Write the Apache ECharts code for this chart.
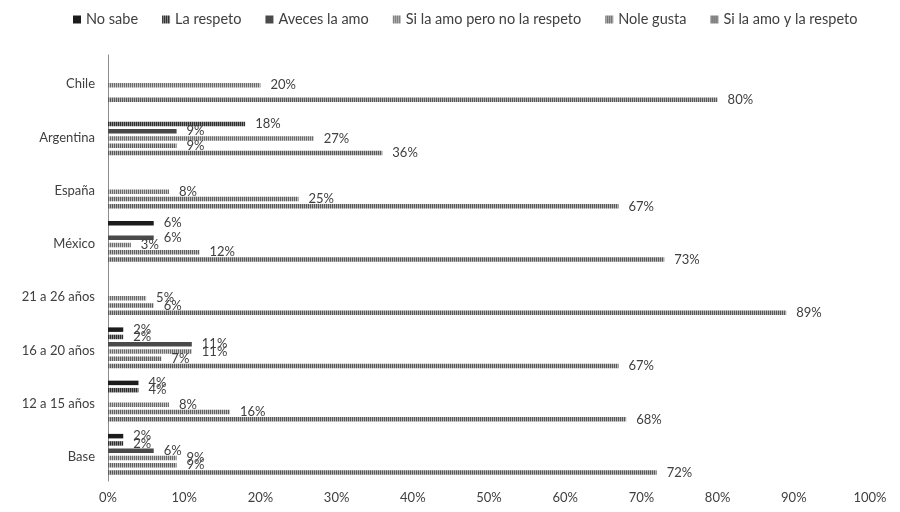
<!DOCTYPE html>
<html>
<head>
<meta charset="utf-8">
<script src="https://cdn.jsdelivr.net/npm/echarts@6/dist/echarts.min.js"></script>
<style>
  html, body { margin: 0; padding: 0; background: #fff; }
  #chart { width: 900px; height: 512px; }
</style>
</head>
<body>
<div id="chart"></div>
<script>
// Categories, bottom to top
const categories = ['Base', '12 a 15 años', '16 a 20 años', '21 a 26 años', 'México', 'España', 'Argentina', 'Chile'];

// Series names (legend order)
const seriesNames = ['No sabe', 'La respeto', 'Aveces la amo', 'Si la amo pero no la respeto', 'Nole gusta', 'Si la amo y la respeto'];

// Percent values per series, in category order (null = no answer shown)
const noSabe      = [2, 4, 2, null, 6, null, null, null];
const laRespeto   = [2, 4, 2, null, null, null, 18, null];
const avecesLaAmo = [6, null, 11, null, 6, null, 9, null];
const siAmoNoResp = [9, 8, 11, 5, 3, 8, 27, 20];
const noleGusta   = [9, 16, 7, 6, 12, 25, 9, null];
const siAmoYResp  = [72, 68, 67, 89, 73, 67, 36, 80];

const xTicks = { min: 0, max: 100, step: 10 };

const seriesValues = [noSabe, laRespeto, avecesLaAmo, siAmoNoResp, noleGusta, siAmoYResp];

// Vertical hatch fill
function hatch(fg, bg, period, lineW) {
  const c = document.createElement('canvas');
  c.width = period; c.height = 4;
  const g = c.getContext('2d');
  g.fillStyle = bg; g.fillRect(0, 0, period, 4);
  g.fillStyle = fg; g.fillRect(0, 0, lineW, 4);
  return { image: c, repeat: 'repeat' };
}

const fills = [
  '#1c1c1c',
  hatch('#2e2e2e', '#8a8a8a', 2, 1),
  '#4a4a4a',
  hatch('#6a6a6a', '#c4c4c4', 2, 1),
  hatch('#5e5e5e', '#bdbdbd', 2, 1),
  hatch('#585858', '#b4b4b4', 2, 1)
];

const textColor = '#404040';
const fontFamily = 'Lato, "Open Sans", sans-serif';

const chart = echarts.init(document.getElementById('chart'), null, { renderer: 'canvas' });

const series = seriesNames.map((name, i) => ({
  name: name,
  type: 'bar',
  data: seriesValues[i],
  barWidth: 4.5,
  barGap: '62%',
  itemStyle: { color: fills[i] },
  label: {
    show: true,
    position: 'right',
    distance: 10,
    color: textColor,
    fontFamily: fontFamily,
    fontSize: 13,
    padding: [2, 0, 0, 0],
    formatter: p => (p.value == null ? '' : p.value + '%')
  },
  emphasis: { disabled: true },
  animation: false
}));

chart.setOption({
  backgroundColor: '#ffffff',
  animation: false,
  legend: {
    top: 7,
    left: 68,
    data: seriesNames,
    icon: 'rect',
    itemWidth: 8,
    itemHeight: 8,
    itemGap: 24,
    textStyle: { color: textColor, fontFamily: fontFamily, fontSize: 14.5 }
  },
  grid: { left: 108, right: 30, top: 55, bottom: 31 },
  xAxis: {
    type: 'value',
    min: xTicks.min,
    max: xTicks.max,
    interval: xTicks.step,
    axisLine: { show: false },
    axisTick: { show: false },
    splitLine: { show: false },
    axisLabel: {
      color: textColor,
      fontFamily: fontFamily,
      fontSize: 13,
      margin: 10,
      formatter: '{value}%'
    }
  },
  yAxis: {
    type: 'category',
    data: categories,
    axisLine: { show: true, lineStyle: { color: '#8c8c8c', width: 1 } },
    axisTick: { show: false },
    axisLabel: {
      margin: 13,
      formatter: v => '{c|' + v + '}',
      rich: {
        c: {
          color: textColor,
          fontFamily: fontFamily,
          fontSize: 13,
          padding: [5, 0, 0, 0]
        }
      }
    }
  },
  series: series
});
</script>
</body>
</html>
